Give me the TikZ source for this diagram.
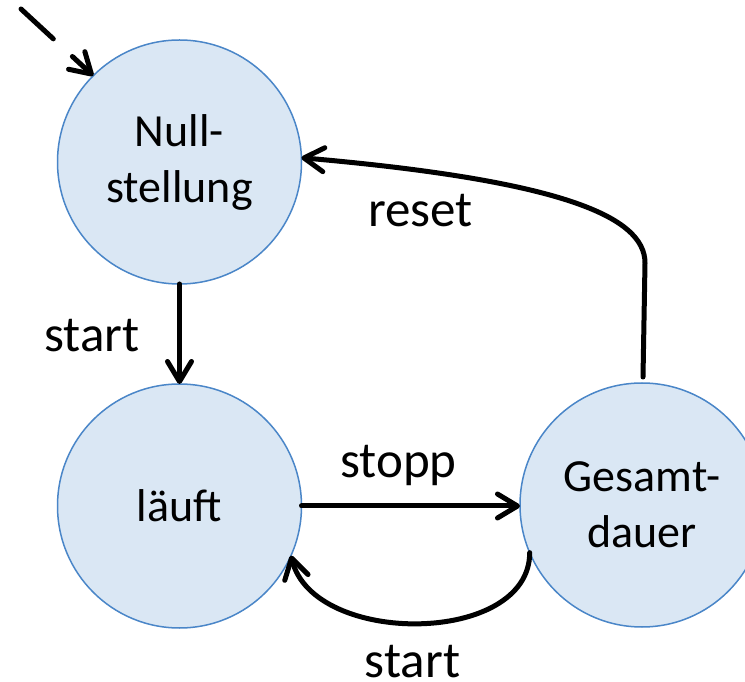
\documentclass[tikz,border=0pt]{standalone}
\usepackage{fontspec}
\setmainfont{Carlito}
\usetikzlibrary{arrows.meta}
\definecolor{statefill}{RGB}{218,231,244}
\definecolor{stateline}{RGB}{74,134,200}
\tikzset{
  state/.style={circle, draw=stateline, fill=statefill, line width=1.5pt,
    minimum size=244pt, inner sep=0pt, outer sep=0pt, align=center,
    font=\fontsize{46}{56}\selectfont},
  trans/.style={line width=5pt, line cap=round,
    -{Straight Barb[round, length=20pt, width=24pt]}},
  lbl/.style={anchor=base, inner sep=0pt, font=\fontsize{51}{60}\selectfont}
}
\begin{document}
\begin{tikzpicture}[x=1pt, y=1pt]
  \clip (0,0) rectangle (745,681);
  \fill[white] (0,0) rectangle (745,681);

  % states
  \node[state] (ns) at (179.5,519) {Null-\\stellung};
  \node[state] (lf) at (179.5,175) {läuft};
  \node[state] (gd) at (642,176) {Gesamt-\\dauer};

  % initial marker
  \coordinate (init) at (21,672);
  \draw[trans, dash pattern=on 44pt off 26pt on 200pt] (init) -- (ns.135);

  % transitions
  \draw[trans] (ns.south) -- (lf.north);
  \draw[trans] (lf.east) -- (lf.east -| gd.west);
  \draw[trans] (gd.203) to[out=-90, in=-76, out distance=93pt, in distance=94pt] (lf.-24);
  \coordinate (bend) at (645,418);
  \draw[trans] ([xshift=1pt, yshift=6pt]gd.north) -- (bend)
    to[out=90, in=-5, out distance=47pt, in distance=259pt] (ns.2);

  % labels
  \node[lbl] (l-start1) at (92,329) {start};
  \node[lbl] (l-stopp) at (398.5,203) {stopp};
  \node[lbl] (l-start2) at (412.5,4) {start};
  \node[lbl] (l-reset) at (420.5,454) {reset};
\end{tikzpicture}
\end{document}
